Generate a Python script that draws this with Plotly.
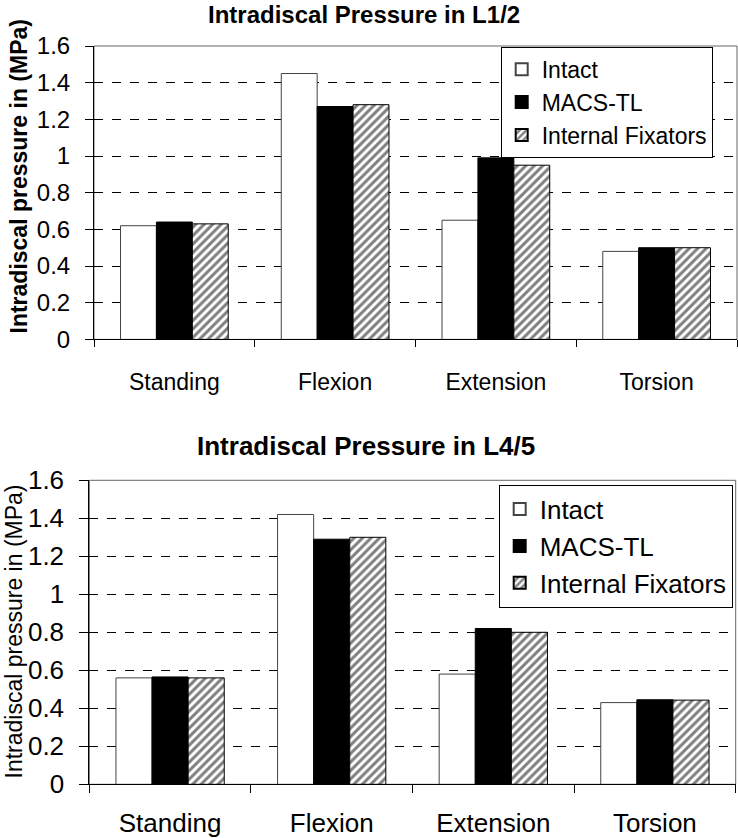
import plotly.graph_objects as go

categories = ["Standing", "Flexion", "Extension", "Torsion"]
series_names = ["Intact", "MACS-TL", "Internal Fixators"]

# L1/2 (top chart)
l12_intact = [0.62, 1.45, 0.65, 0.48]
l12_macs = [0.64, 1.27, 0.99, 0.50]
l12_fix = [0.63, 1.28, 0.95, 0.50]

# L4/5 (bottom chart)
l45_intact = [0.56, 1.42, 0.58, 0.43]
l45_macs = [0.565, 1.29, 0.82, 0.445]
l45_fix = [0.56, 1.30, 0.80, 0.443]

y_ticks = [0, 0.2, 0.4, 0.6, 0.8, 1.0, 1.2, 1.4, 1.6]
y_tick_text = ["0", "0.2", "0.4", "0.6", "0.8", "1", "1.2", "1.4", "1.6"]

W, H = 738, 838
FONT = "Liberation Sans, Arial, sans-serif"

fig = go.Figure()


def add_set(vals, xa, ya, leg):
    styles = [
        dict(color="white", line=dict(color="#444", width=1)),
        dict(color="black", line=dict(color="black", width=1)),
        dict(color="white", line=dict(color="black", width=1),
             pattern=dict(shape="/", fgcolor="black", bgcolor="white", size=6, solidity=0.5)),
    ]
    for name, v, st in zip(series_names, vals, styles):
        fig.add_trace(go.Bar(x=categories, y=v, name=name, marker=st,
                             xaxis=xa, yaxis=ya, legend=leg, showlegend=True))


add_set([l12_intact, l12_macs, l12_fix], "x", "y", "legend")
add_set([l45_intact, l45_macs, l45_fix], "x2", "y2", "legend2")


def px_x(p):
    return p / W


def px_y(p):
    return 1 - p / H


top_dom_x = [px_x(94), px_x(737)]
top_dom_y = [px_y(339.4), px_y(46)]
bot_dom_x = [px_x(89.3), px_x(735.7)]
bot_dom_y = [px_y(784.3), px_y(480.3)]

common_x = dict(type="category", showline=True, linecolor="black", linewidth=1,
                ticks="outside", tickson="boundaries", tickcolor="black",
                showgrid=False, zeroline=False, automargin=False)
common_y = dict(range=[0, 1.6], tickvals=y_ticks, ticktext=y_tick_text,
                showline=True, linecolor="black", linewidth=1,
                ticks="outside", tickcolor="black",
                showgrid=True, gridcolor="black", griddash="dash", gridwidth=1,
                zeroline=False, automargin=False)

fig.update_layout(
    width=W, height=H, autosize=False,
    margin=dict(l=0, r=0, t=0, b=0, autoexpand=False),
    paper_bgcolor="white", plot_bgcolor="white",
    font=dict(family=FONT, color="black"),
    barmode="group", bargap=0.33, bargroupgap=0,
    xaxis=dict(domain=top_dom_x, anchor="y", ticklen=7, tickfont=dict(size=23),
               ticklabelstandoff=22, **common_x),
    yaxis=dict(domain=top_dom_y, anchor="x", ticklen=8, tickfont=dict(size=24),
               ticklabelstandoff=10, **common_y),
    xaxis2=dict(domain=bot_dom_x, anchor="y2", ticklen=8, tickfont=dict(size=26),
                ticklabelstandoff=15, **common_x),
    yaxis2=dict(domain=bot_dom_y, anchor="x2", ticklen=9, tickfont=dict(size=26),
                ticklabelstandoff=10, **common_y),
    legend=dict(x=px_x(500.7), y=px_y(46.7), xanchor="left", yanchor="top",
                bgcolor="white", bordercolor="black", borderwidth=1,
                font=dict(size=23), itemsizing="constant"),
    legend2=dict(x=px_x(498.7), y=px_y(484.7), xanchor="left", yanchor="top",
                 bgcolor="white", bordercolor="black", borderwidth=1,
                 font=dict(size=26), itemsizing="constant"),
    showlegend=True,
)

# frame (top and right borders in grey)
for xr, yr in (("x domain", "y domain"), ("x2 domain", "y2 domain")):
    fig.add_shape(type="rect", xref=xr, yref=yr, x0=0, x1=1, y0=0, y1=1,
                  line=dict(color="#666", width=1), layer="below")

ann = dict(xref="paper", yref="paper", showarrow=False, xanchor="center", yanchor="middle")
fig.add_annotation(text="<b>Intradiscal Pressure in L1/2</b>", x=px_x(364), y=px_y(14),
                   font=dict(size=24), **ann)
fig.add_annotation(text="<b>Intradiscal Pressure in L4/5</b>", x=px_x(366), y=px_y(446),
                   font=dict(size=26), **ann)
fig.add_annotation(text="<b>Intradiscal pressure in (MPa)</b>", x=px_x(18), y=px_y(176.5),
                   textangle=-90, font=dict(size=23), **ann)
fig.add_annotation(text="Intradiscal pressure in (MPa)", x=px_x(13), y=px_y(631.5),
                   textangle=-90, font=dict(size=23), **ann)

fig.write_html("out.html", config={"displayModeBar": False},
               post_script="document.body.style.margin='0';document.body.style.padding='0';")
